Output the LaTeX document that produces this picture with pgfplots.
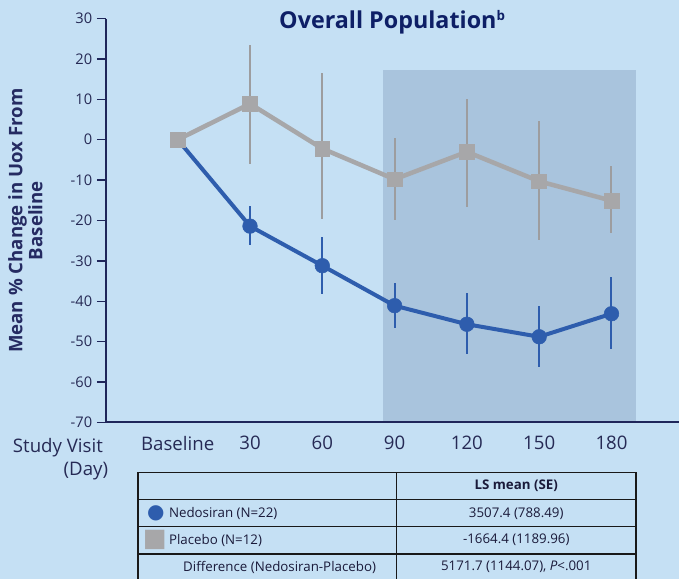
\documentclass[border=0pt]{standalone}
\usepackage{fontspec}
\setmainfont{Open Sans}
\newfontfamily\symfont{DejaVu Sans}
\usepackage{pgfplots}
\usepackage{pgfplotstable}
\pgfplotsset{compat=1.18}
\usetikzlibrary{backgrounds}
\definecolor{bg}{HTML}{C5E0F4}
\definecolor{shadecol}{HTML}{A9C4DD}
\definecolor{nedocol}{HTML}{2E5DAD}
\definecolor{placol}{HTML}{A7A7A9}
\definecolor{plaerr}{HTML}{9D9D9F}
\definecolor{axiscol}{HTML}{1F265A}
\definecolor{tickcol}{HTML}{262A55}
\definecolor{titlecol}{HTML}{0E1F66}
\definecolor{ylabcol}{HTML}{252B62}
\definecolor{tabtext}{HTML}{1A1A3A}

\pgfplotstableread{
x y ep em
0 0 0 0
1 -21.4 4.9 4.7
2 -31.2 7.2 7.0
3 -41.1 5.7 5.6
4 -45.7 7.7 7.3
5 -48.8 7.5 7.5
6 -43.1 9.0 8.7
}\nedo

\pgfplotstableread{
x y ep em
0 0 0 0
1 8.9 14.5 14.8
2 -2.2 18.6 17.5
3 -9.8 10.1 10.1
4 -3.0 13.2 13.6
5 -10.3 14.9 14.6
6 -15.1 8.5 8.1
}\placebo

\begin{document}
\begin{tikzpicture}[x=0.75pt,y=0.75pt]
\begin{axis}[
  scale only axis, width=430.5pt, height=303.3pt,
  xmin=-0.994, xmax=6.934, ymin=-70, ymax=30,
  axis x line=bottom, axis y line=left,
  axis line style={-, draw=axiscol, line width=1.5pt},
  axis on top,
  xtick={0,1,2,3,4,5,6},
  xticklabels={Baseline,30,60,90,120,150,180},
  x tick style={draw=none},
  ytick={-70,-60,-50,-40,-30,-20,-10,0,10,20,30},
  yticklabels={-70,-60,-50,-40,-30,-20,-10,0,10,20,30},
  y tick style={draw=axiscol, line width=1.1pt},
  tick align=outside, major tick length=6.75pt,
  ytick pos=left,
  yticklabel style={font=\fontsize{11}{12}\selectfont, text=tickcol},
  xticklabel style={font=\fontsize{14}{16}\selectfont, text=tickcol},
  clip=false,
]
\coordinate (O) at (axis cs:-0.994,-70);
\fill[shadecol] (axis cs:2.845,-70) rectangle (axis cs:6.344,17.2);
\addplot[nedocol, line width=3pt, mark=*, mark size=5.5pt,
  mark options={solid, fill=nedocol, draw=nedocol, line width=0.4pt},
  error bars/.cd, y dir=both, y explicit, error mark=none,
  error bar style={line width=1.5pt, nedocol}]
  table[x=x, y=y, y error plus=ep, y error minus=em] {\nedo};
\addplot[placol, line width=3.4pt, mark=square*, mark size=5.6pt,
  mark options={solid, fill=placol, draw=placol, line width=0.4pt},
  error bars/.cd, y dir=both, y explicit, error mark=none,
  error bar style={line width=1.5pt, plaerr}]
  table[x=x, y=y, y error plus=ep, y error minus=em] {\placebo};
\end{axis}

\begin{scope}[shift={(O)}, shift={(-106,-157)}]
\begin{scope}[on background layer]
\fill[bg] (0,0) rectangle (680,580);
\end{scope}
% title
\node[anchor=base, text=titlecol, font=\fontsize{17.5}{20}\selectfont\bfseries] at (393,551) {Overall Population\textsuperscript{\fontsize{10}{11}\selectfont b}};
% y label
\node[rotate=90, align=center, text=ylabcol, font=\fontsize{14}{15}\selectfont\bfseries] at (25.5,359) {Mean \% Change in Uox From\\Baseline};
% study visit
\node[anchor=base, text=tickcol, font=\fontsize{14}{16}\selectfont] at (58,127) {Study Visit};
\node[anchor=base, text=tickcol, font=\fontsize{14}{16}\selectfont] at (86,104) {(Day)};

% table
\begin{scope}[draw=black!90, line width=1.1pt]
\draw (138,107) -- (637,107);
\draw (138,80) -- (637,80);
\draw (138,52.5) -- (637,52.5);
\draw (138,25) -- (637,25);
\draw (138,107) -- (138,0);
\draw (397,107) -- (397,0);
\draw (637,107) -- (637,0);
\end{scope}
\begin{scope}[font=\fontsize{10}{12}\selectfont, text=tabtext]
\node[font=\fontsize{10}{12}\selectfont\bfseries] at (517,93.5) {LS mean (SE)};
\node[text=nedocol, font=\symfont\fontsize{15}{16}\selectfont] at (156,66) {●};
\node[anchor=west, inner sep=0pt] at (169,66) {Nedosiran (N=22)};
\node at (517,66) {3507.4 (788.49)};
\node[text=placol, font=\symfont\fontsize{19}{20}\selectfont] at (155,39) {■};
\node[anchor=west, inner sep=0pt] at (169,39) {Placebo (N=12)};
\node at (517,39) {-1664.4 (1189.96)};
\node at (280,12) {Difference (Nedosiran-Placebo)};
\node at (517,12) {5171.7 (1144.07), \textit{P}<.001};
\end{scope}
\end{scope}
\end{tikzpicture}
\end{document}
